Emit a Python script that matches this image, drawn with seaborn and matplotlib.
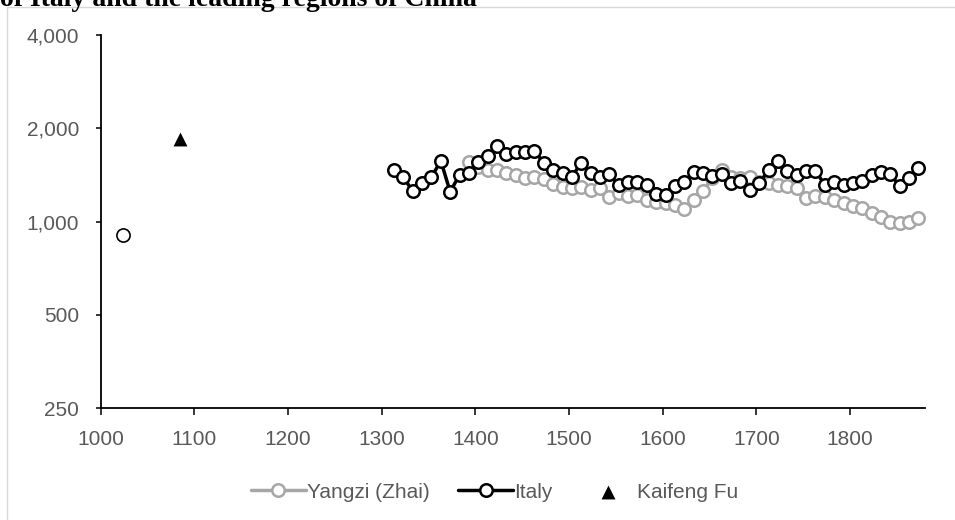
import matplotlib
matplotlib.use("Agg")
import matplotlib.pyplot as plt
import matplotlib.ticker as mticker
from matplotlib.lines import Line2D
import numpy as np
import pandas as pd
import seaborn as sns

# ---- data ----
italy_years = list(range(1313, 1874, 10))
italy_values = [1466, 1389, 1254, 1334, 1389, 1571, 1248, 1413, 1431, 1560,
                1627, 1753, 1648, 1673, 1673, 1689, 1548, 1466, 1431, 1395,
                1548, 1431, 1395, 1420, 1307, 1338, 1338, 1312, 1227, 1218,
                1305, 1344, 1448, 1431, 1403, 1420, 1328, 1351, 1264, 1328,
                1466, 1571, 1459, 1413, 1456, 1459, 1312, 1344, 1312, 1328,
                1355, 1413, 1442, 1420, 1302, 1379, 1485]

yangzi_years = list(range(1393, 1874, 10))
yangzi_values = [1560, 1503, 1466, 1466, 1437, 1413, 1379, 1395, 1368, 1321,
                 1295, 1280, 1295, 1264, 1280, 1202, 1236, 1208, 1218, 1174,
                 1159, 1145, 1131, 1097, 1174, 1254, 1382, 1466, 1395, 1379,
                 1389, 1344, 1328, 1312, 1305, 1286, 1189, 1208, 1202, 1174,
                 1150, 1122, 1103, 1063, 1036, 999, 987, 999, 1024]

kaifeng_years = [1085]
kaifeng_values = [1840]

early_years = [1024]
early_values = [905]

y_ticks = [250, 500, 1000, 2000, 4000]
y_tick_labels = ["250", "500", "1,000", "2,000", "4,000"]
x_ticks = list(range(1000, 1801, 100))

italy_df = pd.DataFrame({"year": italy_years, "value": italy_values})
yangzi_df = pd.DataFrame({"year": yangzi_years, "value": yangzi_values})
kaifeng_df = pd.DataFrame({"year": kaifeng_years, "value": kaifeng_values})
early_df = pd.DataFrame({"year": early_years, "value": early_values})

sns.set_style("white")
plt.rcParams["font.family"] = ["Liberation Sans", "DejaVu Sans"]

W, H = 955, 520
fig = plt.figure(figsize=(W / 100, H / 100), dpi=100)
ax = fig.add_axes([100.8 / W, 1 - 408 / H, (925 - 100.8) / W, (408 - 35) / H])

gray = "#a6a6a6"
sns.lineplot(data=yangzi_df, x="year", y="value", ax=ax, sort=False, estimator=None,
             color=gray, lw=2.5, marker="o", markersize=9, markeredgewidth=1.8,
             markerfacecolor="white", markeredgecolor=gray, label="Yangzi (Zhai)", zorder=2)
sns.lineplot(data=italy_df, x="year", y="value", ax=ax, sort=False, estimator=None,
             color="black", lw=2.5, marker="o", markersize=9, markeredgewidth=1.8,
             markerfacecolor="white", markeredgecolor="black", label="Italy", zorder=3)
sns.scatterplot(data=kaifeng_df, x="year", y="value", ax=ax, marker="^", s=100,
                color="black", edgecolor="black", linewidth=0, label="Kaifeng Fu", zorder=4)
sns.scatterplot(data=early_df, x="year", y="value", ax=ax, marker="o", s=90,
                facecolor="white", edgecolor="black", linewidth=1.2, legend=False, zorder=4)

ax.set_yscale("log", base=2)
ax.set_ylim(250, 4000)
ax.set_xlim(1000, 1880)
ax.yaxis.set_major_locator(mticker.FixedLocator(y_ticks))
ax.yaxis.set_major_formatter(mticker.FixedFormatter(y_tick_labels))
ax.yaxis.set_minor_locator(mticker.NullLocator())
ax.set_xticks(x_ticks)
ax.set_xticklabels([str(x) for x in x_ticks])
ax.set_xlabel("")
ax.set_ylabel("")

for s in ["top", "right"]:
    ax.spines[s].set_visible(False)
for s in ["left", "bottom"]:
    ax.spines[s].set_color("black")
    ax.spines[s].set_linewidth(1.3)

ax.tick_params(axis="y", direction="out", length=3.6, width=1.1, color="black",
               labelcolor="#595959", labelsize=15, pad=12, left=True)
ax.tick_params(axis="x", direction="out", length=5, width=1.1, color="black",
               labelcolor="#595959", labelsize=15, pad=11, bottom=True)

handles, labels = ax.get_legend_handles_labels()
if ax.get_legend():
    ax.get_legend().remove()
fig.legend(handles, labels, loc="center", bbox_to_anchor=(494.5 / W, 1 - 492 / H),
           ncol=3, frameon=False, fontsize=15, handlelength=2.65, handletextpad=0.05,
           columnspacing=1.35, labelcolor="#595959", scatterpoints=1)

# outer frame (partially visible)
fig.add_artist(Line2D([7 / W, 7 / W], [0, 1 - 7 / H], transform=fig.transFigure,
                      color="#d9d9d9", lw=1))
fig.add_artist(Line2D([7 / W, 1], [1 - 7 / H, 1 - 7 / H], transform=fig.transFigure,
                      color="#d9d9d9", lw=1))

# title, clipped at the top edge as in the reference
fig.text(0.0, 1 - 6 / H, "of Italy and the leading regions of China",
         fontfamily=["Liberation Serif", "DejaVu Serif"], fontweight="bold",
         fontsize=20, ha="left", va="baseline", color="black")

fig.savefig("out.png", dpi=100)
